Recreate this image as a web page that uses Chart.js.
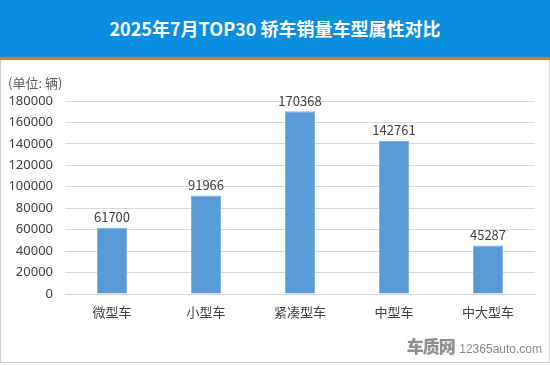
<!DOCTYPE html>
<html>
<head>
<meta charset="utf-8">
<script src="https://cdn.jsdelivr.net/npm/chart.js@4"></script>
<style>
  html, body { margin: 0; padding: 0; background: #fff; }
  body { width: 550px; height: 365px; position: relative; overflow: hidden; font-family: "Noto Sans CJK SC", "Noto Sans", sans-serif; }
  .header { position: absolute; left: 0; top: 0; width: 550px; height: 57px; background: #0a8fe0; border-bottom: 3px solid #f07800; }
  .header h1 { margin: 0; color: #fff; font-size: 18px; font-weight: bold; text-align: center; line-height: 57px; letter-spacing: 0px; }
  .card { position: absolute; left: 0; top: 60px; width: 548px; height: 302px; border-left: 1px solid #d0d0d0; border-right: 1px solid #d0d0d0; border-bottom: 1px solid #d0d0d0; }
  #wrap { position: absolute; left: 0; top: 60px; width: 550px; height: 305px; }
  .mark { position: absolute; right: 8px; bottom: 7px; color: #8a8a8a; font-family: "Liberation Sans", sans-serif; }
  .mark b { font-size: 17px; color: #8f8f8f; font-family: "Noto Sans CJK SC", sans-serif; font-weight: 900; letter-spacing: -1px; }
  .mark span { font-size: 12px; }
</style>
</head>
<body>
<div class="header"><h1>2025年7月TOP30 轿车销量车型属性对比</h1></div>
<div class="card"></div>
<div id="wrap"><canvas id="chart1" width="550" height="305"></canvas></div>
<div class="mark"><b>车质网</b> <span>12365auto.com</span></div>
<script>
var categories = ["微型车", "小型车", "紧凑型车", "中型车", "中大型车"];
var sales = [61700, 91966, 170368, 142761, 45287];
var yTicks = [0, 20000, 40000, 60000, 80000, 100000, 120000, 140000, 160000, 180000];
var unitLabel = "(单位: 辆)";

var valueLabels = {
    id: 'valueLabels',
    afterDatasetsDraw: function (chart) {
        var ctx = chart.ctx;
        var meta = chart.getDatasetMeta(0);
        ctx.save();
        ctx.font = '13px "Noto Sans CJK SC", "Noto Sans", sans-serif';
        ctx.fillStyle = '#404040';
        ctx.textAlign = 'center';
        ctx.textBaseline = 'bottom';
        meta.data.forEach(function (bar, i) {
            ctx.fillText(String(sales[i]), bar.x, bar.y - 4);
        });
        ctx.textAlign = 'left';
        ctx.textBaseline = 'middle';
        ctx.fillStyle = '#595959';
        ctx.fillText(unitLabel, 8, 23);
        ctx.restore();
    }
};

var chart1 = document.getElementById('chart1').getContext('2d');
var myChart1 = new Chart(chart1, {
    type: 'bar',
    data: {
        labels: categories,
        datasets: [{
            label: "销量",
            data: sales,
            backgroundColor: '#5b9bd5',
            borderColor: '#7fb2e2',
            borderWidth: 1,
            barPercentage: 0.32,
            categoryPercentage: 1
        }]
    },
    options: {
        responsive: false,
        animation: false,
        layout: { padding: { left: 0, right: 15, top: 41, bottom: 0 } },
        plugins: {
            legend: { display: false },
            tooltip: { enabled: false }
        },
        scales: {
            x: {
                afterFit: function (s) { s.height = 71; },
                grid: { display: false, drawTicks: false },
                border: { color: '#d9d9d9' },
                ticks: {
                    padding: 10,
                    color: '#404040',
                    font: { size: 13, family: '"Noto Sans CJK SC", sans-serif' }
                }
            },
            y: {
                min: 0,
                max: 180000,
                afterFit: function (s) { s.width = 65; },
                afterBuildTicks: function (s) {
                    s.ticks = yTicks.map(function (v) { return { value: v }; });
                },
                grid: { color: '#d9d9d9', drawTicks: false },
                border: { display: false },
                ticks: {
                    padding: 12,
                    color: '#404040',
                    font: { size: 13, family: '"Noto Sans", sans-serif' },
                    callback: function (v) { return String(v); }
                }
            }
        }
    },
    plugins: [valueLabels]
});
</script>
</body>
</html>
